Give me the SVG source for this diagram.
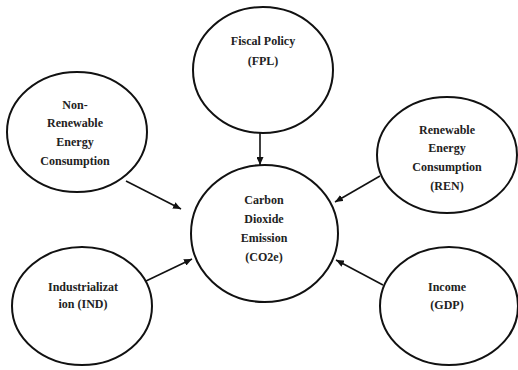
<svg xmlns="http://www.w3.org/2000/svg" width="518" height="370" viewBox="0 0 518 370">
<defs>
<marker id="ah" markerWidth="8" markerHeight="7" refX="8" refY="3.5" orient="auto" markerUnits="userSpaceOnUse">
<path d="M0,0 L8,3.5 L0,7 Z" fill="#111"/>
</marker>
<style>
.n{fill:#fff;stroke:#111;stroke-width:2}
.t{font-weight:bold;font-size:12px;fill:#222;text-anchor:middle}
.c{stroke:#111;stroke-width:1.6;fill:none;marker-end:url(#ah)}
</style>
</defs>
<rect width="518" height="370" fill="#fff"/>
<g id="connectors">
<line class="c" x1="260" y1="133" x2="260" y2="165"/>
<line class="c" x1="126" y1="181" x2="181" y2="209"/>
<line class="c" x1="146" y1="281" x2="192" y2="259"/>
<line class="c" x1="380" y1="176" x2="335" y2="202"/>
<line class="c" x1="383" y1="285" x2="336" y2="260"/>
</g>
<g font-family="Times New Roman, Liberation Serif, DejaVu Serif, serif">
<g id="fpl">
<ellipse class="n" cx="263" cy="70" rx="70" ry="63"/>
<text class="t" x="263" y="45">Fiscal Policy</text>
<text class="t" x="263" y="65">(FPL)</text>
</g>
<g id="nren">
<ellipse class="n" cx="77" cy="132" rx="70" ry="60"/>
<text class="t" x="75" y="109">Non-</text>
<text class="t" x="75" y="127">Renewable</text>
<text class="t" x="75" y="146">Energy</text>
<text class="t" x="75" y="165">Consumption</text>
</g>
<g id="ren">
<ellipse class="n" cx="447" cy="155" rx="70" ry="58"/>
<text class="t" x="447" y="134">Renewable</text>
<text class="t" x="447" y="152">Energy</text>
<text class="t" x="447" y="171">Consumption</text>
<text class="t" x="447" y="190">(REN)</text>
</g>
<g id="co2">
<ellipse class="n" cx="264.5" cy="233.5" rx="73.5" ry="68.5"/>
<text class="t" x="264" y="204">Carbon</text>
<text class="t" x="264" y="223">Dioxide</text>
<text class="t" x="264" y="242">Emission</text>
<text class="t" x="264" y="261">(CO2e)</text>
</g>
<g id="ind">
<ellipse class="n" cx="82" cy="306" rx="70" ry="59"/>
<text class="t" x="83" y="291">Industrializat</text>
<text class="t" x="83" y="308">ion (IND)</text>
</g>
<g id="gdp">
<ellipse class="n" cx="449" cy="306" rx="69" ry="59"/>
<text class="t" x="447" y="291">Income</text>
<text class="t" x="447" y="309">(GDP)</text>
</g>
</g>
</svg>
